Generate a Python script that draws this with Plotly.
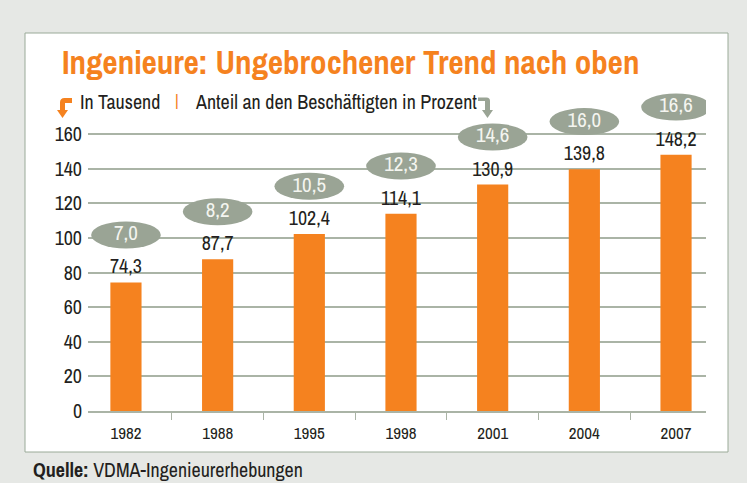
import plotly.graph_objects as go

years = ["1982", "1988", "1995", "1998", "2001", "2004", "2007"]
engineers_k = [74.3, 87.7, 102.4, 114.1, 130.9, 139.8, 148.2]
share_pct = [7.0, 8.2, 10.5, 12.3, 14.6, 16.0, 16.6]
y_ticks = [0, 20, 40, 60, 80, 100, 120, 140, 160]

ORANGE = "#f5821f"
ELLIPSE = "#9aa495"
GRID = "#aab4a6"
BG = "#e6e8e5"
BORDER = "#9aaa98"
TXT = "#231f20"
FONT = "Archivo Narrow, Fira Sans Condensed, Barlow Condensed, sans-serif"

W, H = 747, 483
L, R, T, B = 88, 706, 91, 411


def px(x):
    return (x - L) / (R - L)


def py(y):
    return (B - y) / (B - T)


def de(v):
    return f"{v:.1f}".replace(".", ",")


xpos = list(range(len(years)))
fig = go.Figure()

fig.add_trace(go.Bar(
    x=xpos, y=engineers_k, width=0.34, marker=dict(color=ORANGE, line=dict(width=0)),
    text=[de(v) for v in engineers_k], textposition="outside", constraintext="none",
    textfont=dict(family=FONT, size=20, color=TXT), cliponaxis=False,
    hoverinfo="skip",
))

offset = 27.5
ell_y = [v + offset for v in engineers_k]
shapes = []
for i, yv in zip(xpos, ell_y):
    shapes.append(dict(type="circle", xref="x", yref="y", x0=i - 0.38, x1=i + 0.38,
                       y0=yv - 7.8, y1=yv + 7.8, fillcolor=ELLIPSE,
                       line=dict(width=0), layer="between"))

fig.add_trace(go.Scatter(
    x=xpos, y=ell_y, mode="text", text=[de(v) for v in share_pct],
    textfont=dict(family=FONT, size=21, color="#f4f5f0"), cliponaxis=False,
    hoverinfo="skip",
))

# white panel
shapes.append(dict(type="rect", xref="paper", yref="paper",
                   x0=px(25), x1=px(728), y0=py(452), y1=py(33),
                   fillcolor="white", line=dict(color=BORDER, width=1), layer="below"))


def path(pts):
    s = ""
    for cmd, coords in pts:
        s += cmd + " " + " ".join(
            f"{px(coords[k]):.5f},{py(coords[k + 1]):.5f}" for k in range(0, len(coords), 2)) + " "
    return s + "Z"


orange_arrow = path([("M", (72, 98)), ("L", (64.5, 98)), ("Q", (60, 98, 60, 102.5)),
                     ("L", (60, 110)), ("L", (57, 110)), ("L", (62.5, 118)), ("L", (68, 110)),
                     ("L", (65, 110)), ("L", (65, 103)), ("L", (72, 103))])
gray_arrow = path([("M", (478, 97.5)), ("L", (486.5, 97.5)), ("Q", (490, 97.5, 490, 101)),
                   ("L", (490, 110)), ("L", (493, 110)), ("L", (487.5, 118)), ("L", (482, 110)),
                   ("L", (485, 110)), ("L", (485, 101)), ("L", (478, 101))])
shapes.append(dict(type="path", xref="paper", yref="paper", path=orange_arrow,
                   fillcolor=ORANGE, line=dict(width=0)))
shapes.append(dict(type="path", xref="paper", yref="paper", path=gray_arrow,
                   fillcolor=ELLIPSE, line=dict(width=0)))

annotations = [
    dict(xref="paper", yref="paper", x=px(78), y=py(101), xanchor="left", yanchor="middle",
         text="In Tausend", showarrow=False, font=dict(family=FONT, size=20, color=TXT)),
    dict(xref="paper", yref="paper", x=px(177), y=py(100), xanchor="center", yanchor="middle",
         text="|", showarrow=False, font=dict(family=FONT, size=17, color=ORANGE)),
    dict(xref="paper", yref="paper", x=px(193), y=py(101), xanchor="left", yanchor="middle",
         text="Anteil an den Beschäftigten in Prozent", showarrow=False,
         font=dict(family=FONT, size=20, color=TXT)),
    dict(xref="paper", yref="paper", x=px(31), y=py(469), xanchor="left", yanchor="middle",
         text="<b>Quelle:</b> VDMA-Ingenieurerhebungen", showarrow=False,
         font=dict(family=FONT, size=20, color=TXT)),
]

fig.update_layout(
    width=W, height=H,
    margin=dict(l=L, r=W - R, t=T, b=H - B, pad=0),
    paper_bgcolor=BG, plot_bgcolor="rgba(0,0,0,0)",
    showlegend=False,
    title=dict(text="<b>Ingenieure: Ungebrochener Trend nach oben</b>",
               x=62 / W, xanchor="left", y=1 - 62 / H, yanchor="middle",
               font=dict(family=FONT, size=33, color=ORANGE)),
    shapes=shapes, annotations=annotations,
    xaxis=dict(range=[-0.414, 6.327], tickvals=xpos, ticktext=years, ticks="outside",
               ticklen=6, tickcolor="rgba(0,0,0,0)", showgrid=False, zeroline=False,
               showline=True, linecolor=GRID, linewidth=1.5,
               tickfont=dict(family=FONT, size=17, color=TXT),
               minor=dict(tickvals=[0.5, 1.5, 2.5, 3.5, 4.5, 5.5], ticks="outside",
                          ticklen=7, tickcolor=GRID, tickwidth=1, showgrid=False),
               fixedrange=True),
    yaxis=dict(range=[0, 185], tickvals=y_ticks, ticktext=[str(v) for v in y_ticks],
               showgrid=True, gridcolor=GRID, gridwidth=1.5, zeroline=False, ticks="",
               ticklabelstandoff=5, tickfont=dict(family=FONT, size=20, color=TXT),
               fixedrange=True),
)

fig.write_html("out.html", config={"displayModeBar": False},
               post_script="document.body.style.margin='0px';")
